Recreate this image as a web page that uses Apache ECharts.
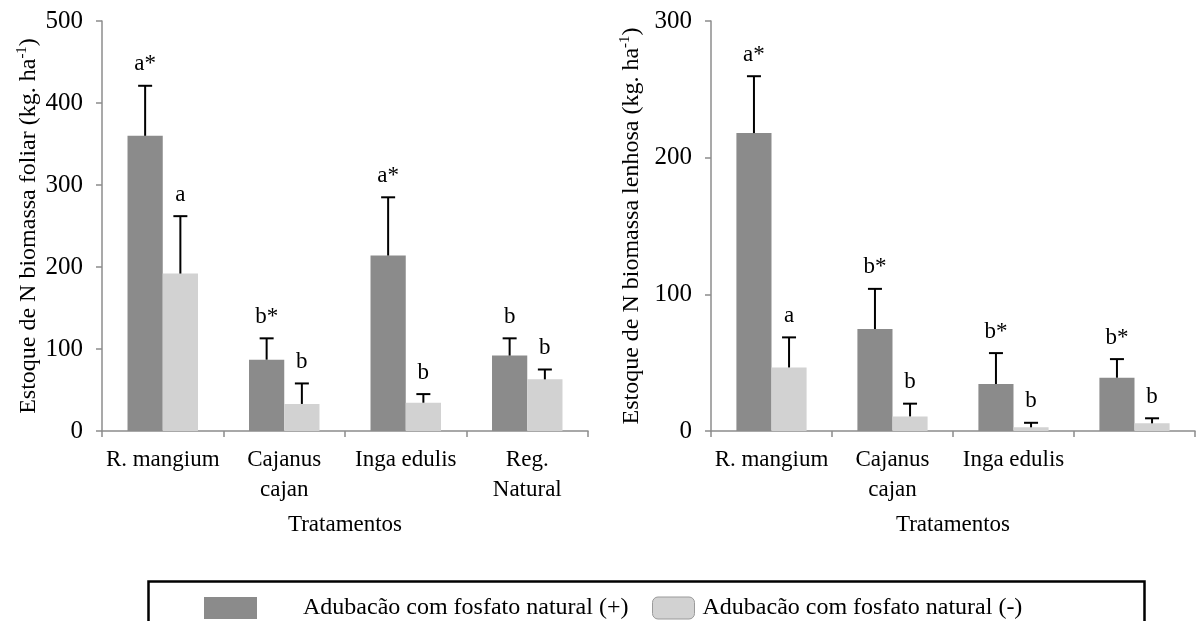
<!DOCTYPE html>
<html>
<head>
<meta charset="utf-8">
<script src="https://cdn.jsdelivr.net/npm/echarts@6/dist/echarts.min.js"></script>
<style>
  html, body { margin: 0; padding: 0; background: #fff; }
  #chart { width: 1197px; height: 621px; }
</style>
</head>
<body>
<div id="chart"></div>
<script>
// Treatments (x categories) for each panel
const tratamentosFoliar = ['R. mangium', 'Cajanus\ncajan', 'Inga edulis', 'Reg.\nNatural'];
const tratamentosLenhosa = ['R. mangium', 'Cajanus\ncajan', 'Inga edulis', ''];

// N stock in leaf biomass (kg ha-1): with / without rock phosphate, plus upper error
const foliarCom = [360, 87, 214, 92];
const foliarComErro = [61, 26, 71, 21];
const foliarSem = [192, 33, 34.5, 63];
const foliarSemErro = [70, 25, 10.5, 12];
const foliarComLetras = ['a*', 'b*', 'a*', 'b'];
const foliarSemLetras = ['a', 'b', 'b', 'b'];

// N stock in woody biomass (kg ha-1)
const lenhosaCom = [218, 74.6, 34.4, 39];
const lenhosaComErro = [41.6, 29.4, 22.6, 13.6];
const lenhosaSem = [46.5, 10.7, 2.7, 5.6];
const lenhosaSemErro = [22, 9.3, 3.3, 3.7];
const lenhosaComLetras = ['a*', 'b*', 'b*', 'b*'];
const lenhosaSemLetras = ['a', 'b', 'b', 'b'];

// Y-axis ticks
const foliarTicks = { min: 0, max: 500, interval: 100 };
const lenhosaTicks = { min: 0, max: 300, interval: 100 };

const serieCom = 'Adubacão com fosfato natural (+)';
const serieSem = 'Adubacão com fosfato natural (-)';

const FONT = 'Liberation Serif';
const DARK = '#8b8b8b';
const LIGHT = '#d2d2d2';
const AXIS = '#8c8c8c';
const BAR_FRAC = 0.29;

function xAxisFor(cats, gridIndex) {
  return {
    type: 'category', gridIndex, data: cats,
    name: 'Tratamentos', nameLocation: 'middle', nameGap: 82,
    nameTextStyle: { fontFamily: FONT, fontSize: 23, color: '#000' },
    axisLine: { lineStyle: { color: AXIS, width: 1.5 } },
    axisTick: { show: true, length: 6, lineStyle: { color: AXIS, width: 1.5 } },
    axisLabel: { fontFamily: FONT, fontSize: 23, color: '#000', margin: 14, lineHeight: 30, interval: 0 }
  };
}

function yAxisFor(ticks, title, gridIndex, gap) {
  return {
    type: 'value', gridIndex, min: ticks.min, max: ticks.max, interval: ticks.interval,
    name: title, nameLocation: 'middle', nameGap: gap, nameRotate: 90,
    nameTextStyle: {
      fontFamily: FONT, fontSize: 24, color: '#000',
      rich: { sup: { fontFamily: FONT, fontSize: 15, color: '#000', padding: [0, 0, 12, 0] } }
    },
    splitLine: { show: false },
    axisLine: { show: true, lineStyle: { color: AXIS, width: 1.5 } },
    axisTick: { show: true, length: 6, lineStyle: { color: AXIS, width: 1.5 } },
    axisLabel: { fontFamily: FONT, fontSize: 25, color: '#000', margin: 19 }
  };
}

function barSeries(name, values, color, idx) {
  return {
    name, type: 'bar', xAxisIndex: idx, yAxisIndex: idx, data: values,
    barWidth: (BAR_FRAC * 100) + '%', barGap: '0%',
    itemStyle: { color },
    emphasis: { disabled: true }
  };
}

// Upper error bar with cap and significance letter above it
function errorSeries(values, errors, letters, side, idx) {
  return {
    type: 'custom', xAxisIndex: idx, yAxisIndex: idx, z: 5, silent: true,
    data: values.map((v, i) => [i, v, v + errors[i]]),
    renderItem(params, api) {
      const i = api.value(0);
      const bw = api.size([1, 0])[0] * BAR_FRAC;
      const base = api.coord([i, api.value(1)]);
      const top = api.coord([i, api.value(2)]);
      const x = base[0] + side * bw / 2;
      const cap = 7;
      return {
        type: 'group',
        children: [
          { type: 'line', shape: { x1: x, y1: base[1], x2: x, y2: top[1] }, style: { stroke: '#000', lineWidth: 2 } },
          { type: 'line', shape: { x1: x - cap, y1: top[1], x2: x + cap, y2: top[1] }, style: { stroke: '#000', lineWidth: 2 } },
          { type: 'text', x: x, y: top[1] - 10,
            style: { text: letters[params.dataIndex], font: '23px ' + FONT, fill: '#000', align: 'center', verticalAlign: 'bottom' } }
        ]
      };
    }
  };
}

const chart = echarts.init(document.getElementById('chart'), null, { renderer: 'canvas' });
chart.setOption({
  backgroundColor: '#fff',
  animation: false,
  grid: [
    { left: 102, right: 609, top: 21, bottom: 190 },
    { left: 711, right: 2, top: 21, bottom: 190 }
  ],
  xAxis: [xAxisFor(tratamentosFoliar, 0), xAxisFor(tratamentosLenhosa, 1)],
  yAxis: [
    yAxisFor(foliarTicks, 'Estoque de N biomassa foliar (kg. ha{sup|-1})', 0, 60),
    yAxisFor(lenhosaTicks, 'Estoque de N biomassa lenhosa (kg. ha{sup|-1})', 1, 66)
  ],
  legend: [
    {
      data: [{ name: serieCom, itemStyle: { color: DARK } }],
      left: 199, top: 591, itemWidth: 53, itemHeight: 22, icon: 'rect',
      textStyle: { fontFamily: FONT, fontSize: 24, color: '#000', padding: [0, 0, 0, 41] },
      selectedMode: false
    },
    {
      data: [{ name: serieSem, itemStyle: { color: LIGHT, borderColor: '#9a9a9a', borderWidth: 1 } }],
      left: 647, top: 591, itemWidth: 42, itemHeight: 22, icon: 'roundRect',
      textStyle: { fontFamily: FONT, fontSize: 24, color: '#000', padding: [0, 0, 0, 3] },
      selectedMode: false
    }
  ],
  graphic: [
    { type: 'rect', left: 146, top: 579, shape: { width: 996, height: 60 },
      style: { fill: 'none', stroke: '#000', lineWidth: 2.5 }, silent: true }
  ],
  series: [
    barSeries(serieCom, foliarCom, DARK, 0),
    barSeries(serieSem, foliarSem, LIGHT, 0),
    barSeries(serieCom, lenhosaCom, DARK, 1),
    barSeries(serieSem, lenhosaSem, LIGHT, 1),
    errorSeries(foliarCom, foliarComErro, foliarComLetras, -1, 0),
    errorSeries(foliarSem, foliarSemErro, foliarSemLetras, 1, 0),
    errorSeries(lenhosaCom, lenhosaComErro, lenhosaComLetras, -1, 1),
    errorSeries(lenhosaSem, lenhosaSemErro, lenhosaSemLetras, 1, 1)
  ]
});
</script>
</body>
</html>
